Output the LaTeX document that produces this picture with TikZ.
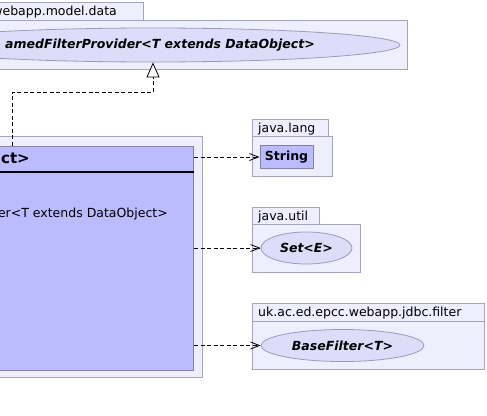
\documentclass[tikz,border=0pt]{standalone}
\usepackage{fontspec}
\setmainfont{DejaVu Sans}
\usetikzlibrary{arrows.meta,shapes.geometric}
\definecolor{pkgfill}{HTML}{EEEEFC}
\definecolor{pkgdraw}{HTML}{A4A4BC}
\definecolor{clsfill}{HTML}{BBBBFF}
\definecolor{clsdraw}{HTML}{8282AA}
\definecolor{ellfill}{HTML}{DDDDFA}
\definecolor{elldraw}{HTML}{9A9ABC}
\tikzset{
  pkg/.style={fill=pkgfill,draw=pkgdraw,line width=1pt},
  cls/.style={fill=clsfill,draw=clsdraw,line width=1pt},
  ell/.style={ellipse,fill=ellfill,draw=elldraw,line width=0.8pt,inner sep=0pt},
  lbl/.style={inner sep=0pt,font=\fontsize{12.5}{15}\selectfont},
  itl/.style={inner sep=0pt,font=\fontsize{12.5}{15}\selectfont\bfseries\itshape},
  dep/.style={densely dashed,dash pattern=on 4pt off 2.5pt,line width=0.8pt,-{Straight Barb[length=9pt,width=7pt,line width=0.8pt]}},
  real/.style={densely dashed,dash pattern=on 4pt off 2.5pt,line width=0.8pt}
}
\begin{document}
\begin{tikzpicture}[x=1pt,y=-1pt]
\useasboundingbox (0,0) rectangle (487,415);
% top package
\draw[pkg] (-20,2.5) rectangle (143,20);
\draw[pkg] (-20,20) rectangle (407,69);
\node[lbl,anchor=base east] (pkgA) at (117,15) {webapp.model.data};
\node[ell,minimum width=494pt,minimum height=34pt] (nfp) at (153,45) {};
\node[itl,anchor=east] (nfpt) at (315,45) {amedFilterProvider<T extends DataObject>};
% class package highlight
\draw[pkg] (-20,136) rectangle (202,377);
\node[cls,draw,anchor=north east,minimum width=214pt,minimum height=224pt,inner sep=0pt] (cls) at (194,145.5) {};
\draw[line width=2pt] (-20,172) -- (194,172);
\node[inner sep=0pt,anchor=east,font=\fontsize{15}{18}\selectfont\bfseries] (clst) at (30,158) {ct>};
\node[lbl,anchor=east] (attr) at (168,214) {er<T extends DataObject>};
% java.lang
\draw[pkg] (252,119.5) rectangle (328,136);
\draw[pkg] (252,136) rectangle (332,176);
\node[lbl,anchor=base west] (jl) at (258,132) {java.lang};
\node[cls,minimum width=53pt,minimum height=23pt,inner sep=0pt] (str) at (286.5,157) {\fontsize{12.5}{15}\selectfont\bfseries String};
% java.util
\draw[pkg] (252,207.5) rectangle (319,224);
\draw[pkg] (252,224) rectangle (360,272);
\node[lbl,anchor=base west] (ju) at (258,220) {java.util};
\node[ell,minimum width=91pt,minimum height=32pt] (set) at (306.5,248) {};
\node[itl] (sett) at (306.5,248) {Set<E>};
% filter package
\draw[pkg] (252,303) rectangle (484,321);
\draw[pkg] (252,321) rectangle (484,369);
\node[lbl,anchor=base west] (uf) at (258,316.5) {uk.ac.ed.epcc.webapp.jdbc.filter};
\node[ell,minimum width=163pt,minimum height=32pt] (bf) at (342.5,345.5) {};
\node[itl] (bft) at (342.5,345.5) {BaseFilter<T>};
% connectors
\coordinate (c1) at (12,145.5);
\coordinate (c2) at (12,92);
\coordinate (c3) at (153,92);
\draw[real,-{Triangle[open,fill=white,length=15pt,width=13pt,line width=0.8pt]}] (c1) -- (c2) -- (c3) -- (nfp.south);
\draw[dep] (cls.east |- str) -- (str.west);
\draw[dep] (cls.east |- set) -- (set.west);
\draw[dep] (cls.east |- bf) -- (bf.west);
\end{tikzpicture}
\end{document}
